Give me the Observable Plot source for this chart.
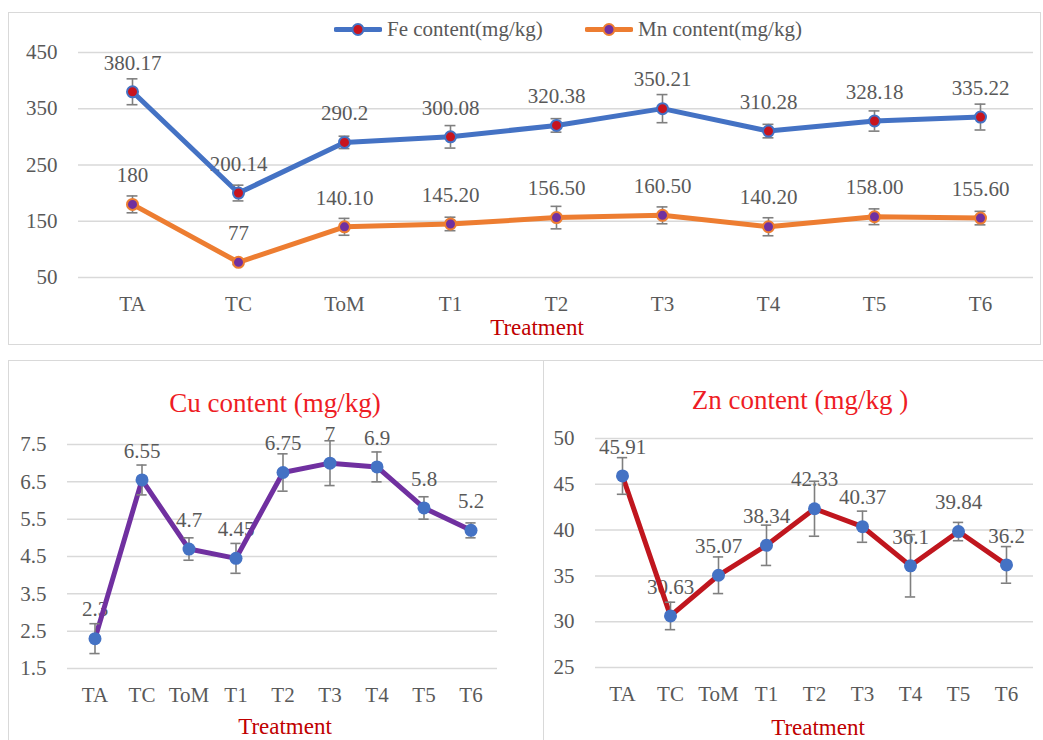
<!DOCTYPE html>
<html>
<head>
<meta charset="utf-8">
<script src="https://cdn.jsdelivr.net/npm/d3@7"></script>
<script src="https://cdn.jsdelivr.net/npm/@observablehq/plot@0.6"></script>
<style>
  body { margin: 0; background: #fff; font-family: "Liberation Serif", "Times New Roman", serif; }
  #wrap { position: relative; width: 1043px; height: 740px; overflow: hidden; background: #fff; }
  .box { position: absolute; border: 1.5px solid #d9d9d9; box-sizing: border-box; }
  .ctr { position: absolute; transform: translate(-50%, -50%); white-space: nowrap; line-height: 1; }
  .leg { position: absolute; display: flex; align-items: center; font-size: 21px; color: #595959; line-height: 1; transform: translateY(-50%); white-space: nowrap; }
</style>
</head>
<body>
<div id="wrap"></div>
<script>
const cats = ["TA", "TC", "ToM", "T1", "T2", "T3", "T4", "T5", "T6"];

const feVals = [380.17, 200.14, 290.2, 300.08, 320.38, 350.21, 310.28, 328.18, 335.22];
const feErr = [23, 14, 11, 20, 12, 25, 12, 18, 23];
const feLabels = ["380.17", "200.14", "290.2", "300.08", "320.38", "350.21", "310.28", "328.18", "335.22"];

const mnVals = [180, 77, 140.10, 145.20, 156.50, 160.50, 140.20, 158.00, 155.60];
const mnErr = [15, 4, 15, 12, 20, 15, 16, 14, 12];
const mnLabels = ["180", "77", "140.10", "145.20", "156.50", "160.50", "140.20", "158.00", "155.60"];

const cuVals = [2.3, 6.55, 4.7, 4.45, 6.75, 7, 6.9, 5.8, 5.2];
const cuErr = [0.4, 0.4, 0.3, 0.4, 0.5, 0.6, 0.4, 0.3, 0.2];
const cuLabels = ["2.3", "6.55", "4.7", "4.45", "6.75", "7", "6.9", "5.8", "5.2"];

const znVals = [45.91, 30.63, 35.07, 38.34, 42.33, 40.37, 36.1, 39.84, 36.2];
const znErr = [2, 1.5, 2, 2.2, 3, 1.7, 3.4, 1, 2];
const znLabels = ["45.91", "30.63", "35.07", "38.34", "42.33", "40.37", "36.1", "39.84", "36.2"];

const topTicks = [50, 150, 250, 350, 450];
const cuTicks = [1.5, 2.5, 3.5, 4.5, 5.5, 6.5, 7.5];
const znTicks = [25, 30, 35, 40, 45, 50];

const rows = (vals, errs, labels) => cats.map((c, i) => ({cat: c, v: vals[i], e: errs[i], label: labels[i]}));

function seriesMarks(data, {line, lineWidth, dotFill, dotStroke, dotStrokeWidth, r, bw, cap}) {
  const inset = bw / 2 - cap / 2;
  return [
    Plot.text(data, {x: "cat", y: "v", text: "label", dy: -29, fontSize: 21, fill: "#595959"}),
    Plot.line(data, {x: "cat", y: "v", stroke: line, strokeWidth: lineWidth, strokeLinejoin: "round", strokeLinecap: "round"}),
    Plot.ruleX(data, {x: "cat", y1: d => d.v - d.e, y2: d => d.v + d.e, stroke: "#7f7f7f", strokeWidth: 1.6}),
    Plot.tickY(data, {x: "cat", y: d => d.v - d.e, stroke: "#7f7f7f", strokeWidth: 1.6, insetLeft: inset, insetRight: inset}),
    Plot.tickY(data, {x: "cat", y: d => d.v + d.e, stroke: "#7f7f7f", strokeWidth: 1.6, insetLeft: inset, insetRight: inset}),
    Plot.dot(data, {x: "cat", y: "v", r, fill: dotFill, stroke: dotStroke, strokeWidth: dotStrokeWidth})
  ];
}

function makePlot({width, height, ml, mr, mt, mb, domain, ticks, marks}) {
  return Plot.plot({
    width, height,
    marginLeft: ml, marginRight: mr, marginTop: mt, marginBottom: mb,
    style: {fontFamily: "Liberation Serif, Times New Roman, serif", fontSize: "21px", color: "#595959", background: "transparent", overflow: "visible"},
    x: {type: "band", domain: cats, padding: 0},
    y: {domain, ticks},
    marks: [
      Plot.gridY(ticks, {stroke: "#d9d9d9", strokeOpacity: 1, strokeWidth: 1.5}),
      Plot.axisY(ticks, {tickSize: 0, tickPadding: 21, fontSize: 21, label: null, fill: "#595959", tickFormat: d => String(d)}),
      Plot.axisX({tickSize: 0, tickPadding: 19, fontSize: 21, label: null, fill: "#595959"}),
      ...marks
    ]
  });
}

const wrap = document.getElementById("wrap");
function add(html) { wrap.insertAdjacentHTML("beforeend", html); }
function place(el, left, top) {
  el.style.position = "absolute"; el.style.left = left + "px"; el.style.top = top + "px";
  wrap.appendChild(el);
}

// panel borders
add('<div class="box" style="left:8px;top:12px;width:1033px;height:333px"></div>');
add('<div class="box" style="left:8px;top:360px;width:536px;height:390px"></div>');
add('<div class="box" style="left:543px;top:360px;width:510px;height:390px"></div>');

// Top panel: Fe & Mn
const topBw = (1033 - 78) / 9;
const topPlot = makePlot({
  width: 1043, height: 345, ml: 78, mr: 10, mt: 52, mb: 68,
  domain: [50, 450], ticks: topTicks,
  marks: [
    ...seriesMarks(rows(feVals, feErr, feLabels), {line: "#4472c4", lineWidth: 5, dotFill: "#c8141e", dotStroke: "#4472c4", dotStrokeWidth: 2, r: 5.5, bw: topBw, cap: 11}),
    ...seriesMarks(rows(mnVals, mnErr, mnLabels), {line: "#ed7d31", lineWidth: 5, dotFill: "#7030a0", dotStroke: "#ed7d31", dotStrokeWidth: 2, r: 5.5, bw: topBw, cap: 11})
  ]
});
place(topPlot, 0, 0);

function legendItem(x, y, lineColor, fill, stroke, text) {
  add(`<div class="leg" style="left:${x}px;top:${y}px">
    <svg width="48" height="16" style="margin-right:5px"><line x1="2" x2="46" y1="8" y2="8" stroke="${lineColor}" stroke-width="5" stroke-linecap="round"/><circle cx="24" cy="8" r="5.5" fill="${fill}" stroke="${stroke}" stroke-width="2"/></svg><span>${text}</span></div>`);
}
legendItem(334, 29, "#4472c4", "#c8141e", "#4472c4", "Fe content(mg/kg)");
legendItem(585, 29, "#ed7d31", "#7030a0", "#ed7d31", "Mn content(mg/kg)");
add('<div class="ctr" style="left:537px;top:327px;font-size:23px;color:#c00000">Treatment</div>');

// Bottom-left: Cu
const cuBw = (497 - 67) / 9;
const cuPlot = makePlot({
  width: 545, height: 385, ml: 67, mr: 48, mt: 89, mb: 72,
  domain: [1.5, 7.5], ticks: cuTicks,
  marks: seriesMarks(rows(cuVals, cuErr, cuLabels), {line: "#7030a0", lineWidth: 5, dotFill: "#4472c4", dotStroke: "none", dotStrokeWidth: 0, r: 6.5, bw: cuBw, cap: 11})
});
place(cuPlot, 0, 355);
add('<div class="ctr" style="left:275px;top:403px;font-size:27px;color:#ee1c25">Cu content (mg/kg)</div>');
add('<div class="ctr" style="left:285px;top:726px;font-size:23px;color:#c00000">Treatment</div>');

// Bottom-right: Zn
const znBw = (493 - 55) / 9;
const znPlot = makePlot({
  width: 503, height: 385, ml: 55, mr: 10, mt: 83, mb: 73,
  domain: [25, 50], ticks: znTicks,
  marks: seriesMarks(rows(znVals, znErr, znLabels), {line: "#c0161e", lineWidth: 5, dotFill: "#4472c4", dotStroke: "none", dotStrokeWidth: 0, r: 6.5, bw: znBw, cap: 11})
});
place(znPlot, 540, 355);
add('<div class="ctr" style="left:800px;top:400px;font-size:27px;color:#ee1c25">Zn content (mg/kg )</div>');
add('<div class="ctr" style="left:818px;top:727px;font-size:23px;color:#c00000">Treatment</div>');
</script>
</body>
</html>
